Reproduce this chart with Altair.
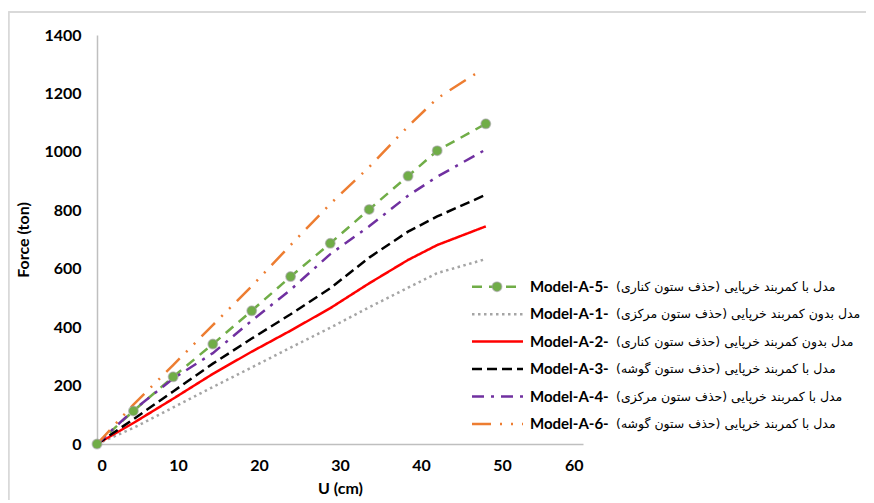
import altair as alt
import pandas as pd

# ---------------- data ----------------
U = [0, 4.5, 9.4, 14.3, 19.1, 23.9, 28.8, 33.6, 38.4, 42.0, 48.0]
U_A6 = [0, 4.5, 9.4, 14.3, 19.1, 23.9, 28.8, 33.6, 38.4, 42.0, 47.0]

F_A5 = [0, 113, 230, 342, 456, 573, 687, 803, 917, 1004, 1096]
F_A1 = [0, 55, 125, 195, 262, 330, 398, 468, 535, 585, 633]
F_A2 = [0, 72, 155, 240, 316, 388, 465, 550, 630, 681, 745]
F_A3 = [0, 85, 180, 275, 361, 444, 533, 638, 727, 779, 853]
F_A4 = [0, 116, 224, 311, 422, 528, 650, 745, 850, 915, 1008]
F_A6 = [0, 135, 270, 407, 540, 681, 822, 948, 1087, 1183, 1272]

models = ["Model-A-5-", "Model-A-1-", "Model-A-2-", "Model-A-3-", "Model-A-4-", "Model-A-6-"]
persian = [
    "مدل با کمربند خرپایی (حذف ستون کناری)",
    "مدل بدون کمربند خرپایی (حذف ستون مرکزی)",
    "مدل بدون کمربند خرپایی (حذف ستون کناری)",
    "مدل با کمربند خرپایی (حذف ستون گوشه)",
    "مدل با کمربند خرپایی (حذف ستون مرکزی)",
    "مدل با کمربند خرپایی (حذف ستون گوشه)",
]
colors = ["#70ad47", "#a5a5a5", "#ff0000", "#000000", "#7030a0", "#ed7d31"]
dashes = [[10, 7], [2.5, 3.5], [1, 0], [10, 5], [12, 7, 3, 7], [19, 9, 2, 9, 2, 9]]

x_ticks = [0, 10, 20, 30, 40, 50, 60]
y_ticks = [0, 200, 400, 600, 800, 1000, 1200, 1400]

# ---------------- tables ----------------
series = [
    ("Model-A-5-", U, F_A5),
    ("Model-A-1-", U, F_A1),
    ("Model-A-2-", U, F_A2),
    ("Model-A-3-", U, F_A3),
    ("Model-A-4-", U, F_A4),
    ("Model-A-6-", U_A6, F_A6),
]
rows = []
for name, xs, ys in series:
    for i, (xv, yv) in enumerate(zip(xs, ys)):
        rows.append({"model": name, "U": xv, "F": yv, "i": i})
df = pd.DataFrame(rows)
df_a5 = df[df["model"] == "Model-A-5-"]

leg = pd.DataFrame({
    "model": models,
    "fa": [p + "\u200f" for p in persian],
    "row": list(range(len(models))),
})

color_scale = alt.Scale(domain=models, range=colors)
dash_scale = alt.Scale(domain=models, range=dashes)

x_enc = alt.X("U:Q", scale=alt.Scale(domain=[0, 60]),
              axis=alt.Axis(values=x_ticks, format="d", title="U (cm)", titleX=243, titleY=44,
                            titleBaseline="middle", labelPadding=13))
y_enc = alt.Y("F:Q", scale=alt.Scale(domain=[0, 1400]),
              axis=alt.Axis(values=y_ticks, format="d", title="Force (ton)", titleX=-74, titleY=204.5,
                            titleBaseline="middle", titleAlign="center", labelPadding=16))

lines = alt.Chart(df).mark_line(strokeWidth=2.5).encode(
    x=x_enc, y=y_enc,
    color=alt.Color("model:N", scale=color_scale, legend=None),
    strokeDash=alt.StrokeDash("model:N", scale=dash_scale, legend=None),
    detail="model:N",
    order="i:Q",
)
pts = alt.Chart(df_a5).mark_circle(size=90, fill="#70ad47", stroke="#9a9a9a",
                                   strokeWidth=1.5, strokeOpacity=0.55, opacity=1).encode(
    x="U:Q", y="F:Q",
)
data_layer = alt.layer(lines, pts)

row_y = alt.Y("row:Q", scale=alt.Scale(domain=[0, 5], range=[251.7, 389]), axis=None)

leg_rules = alt.Chart(leg).mark_rule(strokeWidth=2.5).encode(
    x=alt.value(375), x2=alt.value(426), y=row_y,
    color=alt.Color("model:N", scale=color_scale, legend=None),
    strokeDash=alt.StrokeDash("model:N", scale=dash_scale, legend=None),
)
leg_pt = alt.Chart(leg[leg["model"] == "Model-A-5-"]).mark_circle(
    size=90, fill="#70ad47", stroke="#9a9a9a", strokeWidth=1.5, strokeOpacity=0.55, opacity=1
).encode(x=alt.value(400), y=row_y)
leg_bold = alt.Chart(leg).mark_text(align="left", baseline="middle", font="Lato",
                                    fontWeight="bold", fontSize=15, color="#000000").encode(
    x=alt.value(433), y=row_y, text="model:N")
leg_fa = alt.Chart(leg).mark_text(align="left", baseline="middle", font="DejaVu Sans",
                                  fontSize=12.5, color="#000000").encode(
    x=alt.value(519), y=row_y, text="fa:N")

frame_top = alt.Chart(leg).mark_rule(color="#d9d9d9", strokeWidth=1.5).encode(
    x=alt.value(-88.5), x2=alt.value(770), y=alt.value(-23))
frame_left = alt.Chart(leg).mark_rule(color="#d9d9d9", strokeWidth=1.5).encode(
    x=alt.value(-88.5), y=alt.value(-23), y2=alt.value(470))

legend_layer = alt.layer(frame_top, frame_left, leg_rules, leg_pt, leg_bold, leg_fa)

chart = alt.layer(data_layer, legend_layer).resolve_scale(y="independent").properties(
    width=486, height=409,
    autosize=alt.AutoSizeParams(type="none"),
    padding={"left": 89, "top": 27, "right": 283, "bottom": 56},
    background="white",
).configure_view(stroke=None).configure_axis(
    grid=False, ticks=False, tickSize=0,
    domainColor="#bfbfbf", domainWidth=1.5,
    labelFont="Lato", labelFontWeight="bold", labelFontSize=16, labelColor="#000000",
    titleFont="Lato", titleFontWeight="bold", titleFontSize=16, titleColor="#000000",
)

chart.save("out.html", embed_options={"renderer": "svg", "actions": False})
